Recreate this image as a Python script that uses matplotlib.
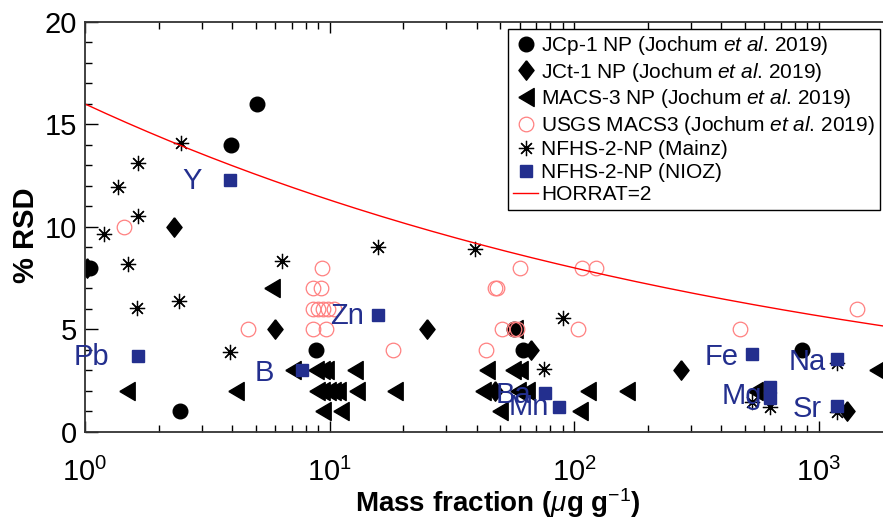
import numpy as np
import matplotlib
matplotlib.use("Agg")
import matplotlib.pyplot as plt

plt.rcParams['font.family'] = ['Liberation Sans', 'DejaVu Sans']
plt.rcParams['mathtext.fontset'] = 'custom'
plt.rcParams['mathtext.rm'] = 'Liberation Sans'
plt.rcParams['mathtext.it'] = 'Liberation Sans:italic'
plt.rcParams['mathtext.bf'] = 'Liberation Sans:bold'

# ---- data (mass fraction in ug/g, %RSD) ----
jcp_x = [1.05, 2.45, 3.94, 5.04, 8.78, 56.8, 62.0, 859]
jcp_y = [8.0, 1.0, 14.0, 16.0, 4.0, 5.0, 4.0, 4.0]

jct_x = [1.02, 2.32, 5.98, 25.1, 47.5, 67.0, 274, 1312]
jct_y = [8.0, 10.0, 5.0, 5.0, 2.0, 4.0, 3.0, 1.0]

macs_x = [1.48, 4.15, 5.80, 7.09, 8.8, 9.3, 9.7, 12.7,
          8.91, 9.36, 9.83, 10.3, 10.8, 12.96, 18.5, 9.43, 11.1,
          44.0, 56.5, 60.1, 42.5, 59.0, 64.0, 114, 49.8, 106, 57.4,
          164, 550, 1730]
macs_y = [2.0, 2.0, 7.0, 3.0, 3.0, 3.0, 3.0, 3.0,
          2.0, 2.0, 2.0, 2.0, 2.0, 2.0, 2.0, 1.0, 1.0,
          3.0, 3.0, 3.0, 2.0, 2.0, 2.0, 2.0, 1.0, 1.0, 5.0,
          2.0, 2.0, 3.0]

usgs_x = [1.45, 4.66, 9.29, 8.54, 9.2, 8.54, 8.95, 9.44, 9.89, 10.4,
          8.59, 9.68, 18.2, 60.1, 107.5, 123, 47.5, 48.6, 50.6, 56.8,
          58.3, 104.1, 43.6, 478, 1442]
usgs_y = [10.0, 5.0, 8.0, 7.0, 7.0, 6.0, 6.0, 6.0, 6.0, 6.0,
          5.0, 5.0, 4.0, 8.0, 8.0, 8.0, 7.0, 7.0, 5.0, 5.0,
          5.0, 5.0, 4.0, 5.0, 6.0]

mainz_x = [1.2, 1.36, 1.65, 1.65, 2.47, 1.50, 1.63, 2.42, 3.92, 6.41,
           15.8, 39.4, 90.4, 75.6, 1194, 1194, 633, 533]
mainz_y = [9.64, 11.93, 13.1, 10.53, 14.11, 8.19, 6.02, 6.4, 3.88, 8.35,
           9.0, 8.9, 5.54, 3.06, 3.34, 0.98, 1.22, 1.46]

nioz_el = ['Y', 'Pb', 'B', 'Zn', 'Ba', 'Mn', 'Fe', 'Mg', '', 'Na', 'Sr']
nioz_x = [3.92, 1.65, 7.7, 15.8, 76.1, 86.8, 533, 633, 633, 1194, 1194]
nioz_y = [12.29, 3.7, 3.0, 5.7, 1.87, 1.22, 3.79, 2.2, 1.65, 3.53, 1.25]
# label offsets (points) relative to each square
lab_dx = [-27, -34, -27, -22, -23, -22, -22, -20, 0, -22, -22]
lab_dy = [-1, -1, -2, -1, -1, 0, -2, -7, 0, -2, -2]

navy = '#232f8e'
diamond = [(0, 1), (0.78, 0), (0, -1), (-0.78, 0), (0, 1)]
tri_left = [(-0.85, 0), (0.85, 1), (0.85, -1), (-0.85, 0)]

fig = plt.figure(figsize=(8.83, 5.22), dpi=100)
ax = fig.add_axes([85 / 883, 90.3 / 522, 805 / 883, 409.7 / 522])

ax.plot(jcp_x, jcp_y, 'o', color='k', ms=10.5, ls='none',
        label='JCp-1 NP (Jochum $\\it{et\\ al}$. 2019)')
ax.plot(jct_x, jct_y, marker=diamond, color='k', ms=14, ls='none',
        label='JCt-1 NP (Jochum $\\it{et\\ al}$. 2019)')
ax.plot(macs_x, macs_y, marker=tri_left, color='k', ms=13, ls='none',
        label='MACS-3 NP (Jochum $\\it{et\\ al}$. 2019)')
ax.plot(usgs_x, usgs_y, 'o', mfc='none', mec='#ff8080', mew=0.9, ms=10.5,
        ls='none', label='USGS MACS3 (Jochum $\\it{et\\ al}$. 2019)')
ax.plot(mainz_x, mainz_y, marker=(8, 2, 0), color='k', mew=0.9, ms=11,
        ls='none', label='NFHS-2-NP (Mainz)')
ax.plot(nioz_x, nioz_y, 's', color=navy, ms=8.5, ls='none',
        label='NFHS-2-NP (NIOZ)')

xx = np.logspace(0, 3.4, 200)
ax.plot(xx, 2 ** (1 - 0.5 * np.log10(xx * 1e-6)), color='red', lw=1.0,
        label='HORRAT=2')

for el, x, y, dx, dy in zip(nioz_el, nioz_x, nioz_y, lab_dx, lab_dy):
    if el:
        ax.annotate(el, (x, y), xytext=(dx, dy), textcoords='offset points',
                    ha='center', va='center', color=navy, fontsize=21)

ax.set_xscale('log')
ax.set_xlim(1, 10 ** (805 / 244.5))
ax.set_ylim(0, 20)
ax.set_yticks([0, 5, 10, 15, 20])
ax.set_yticks(range(0, 21), minor=True)
ax.tick_params(which='both', direction='in', top=True, right=False,
               labelsize=21, width=1.0)
ax.tick_params(axis='y', which='major', length=9, pad=6)
ax.tick_params(axis='y', which='minor', length=5)
ax.tick_params(axis='x', which='major', length=8, pad=19)
ax.tick_params(axis='x', which='minor', length=5)
for s in ax.spines.values():
    s.set_linewidth(1.3)
    s.set_color('#333333')

ax.set_ylabel('% RSD', fontsize=21, fontweight='bold')
ax.yaxis.set_label_coords(-0.056, 0.48)
ax.set_xlabel('Mass fraction ($\\mu$g g$^{-1}$)', fontsize=20,
              fontweight='bold')
ax.xaxis.set_label_coords(0.513, -0.132)

leg = ax.legend(loc='upper left', bbox_to_anchor=(508 / 883, 493 / 522),
                bbox_transform=fig.transFigure, fontsize=15, numpoints=1,
                frameon=True, fancybox=False, framealpha=1, borderpad=0.25,
                labelspacing=0.17, handlelength=1.2, handletextpad=0.15,
                borderaxespad=0)
leg.get_frame().set_edgecolor('k')
leg.get_frame().set_linewidth(1.0)

fig.savefig('out.png', dpi=100)
